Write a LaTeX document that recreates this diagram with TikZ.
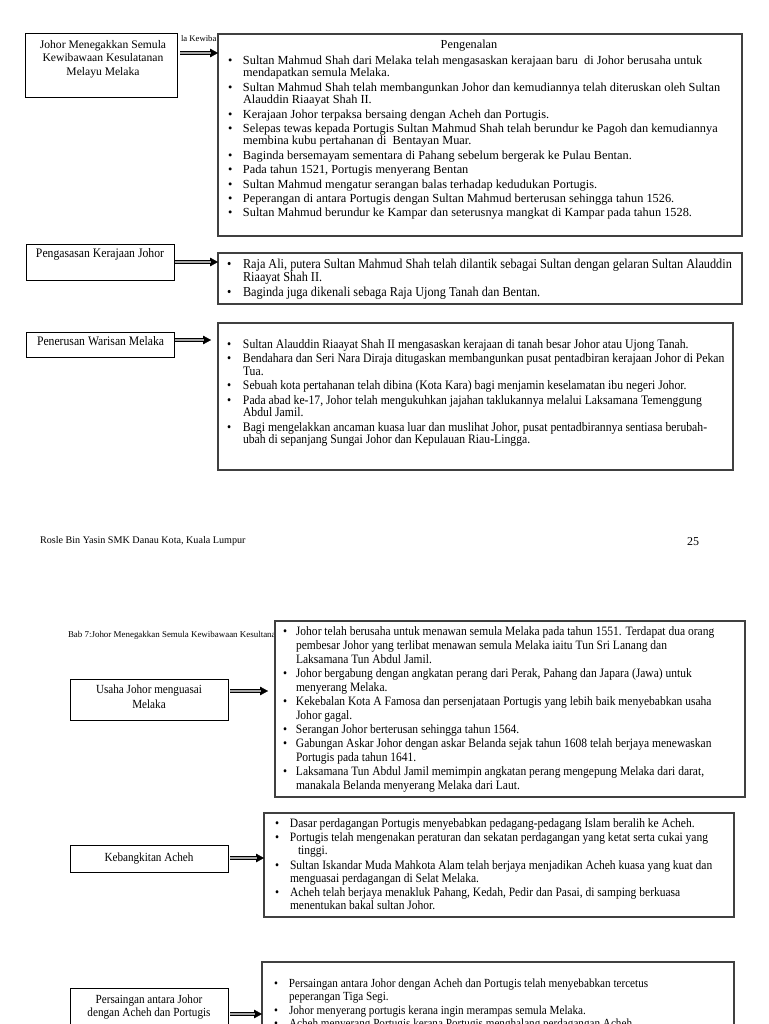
\documentclass[tikz,border=0pt]{standalone}
\usepackage{fontspec}
\setmainfont{Liberation Serif}
\newfontfamily\cnd[FakeStretch=0.9]{Liberation Serif}
\usetikzlibrary{arrows.meta}
\newcommand\bu[1]{\makebox[#1][l]{\textbullet}}
\newcommand\fs[2]{\fontsize{#1}{#2}\selectfont}
\begin{document}
\begin{tikzpicture}[x=0.75pt,y=-0.75pt,
  every node/.style={inner sep=0pt, outer sep=0pt},
  lbox/.style={draw=black, line width=0.7pt, anchor=north west},
  rbox/.style={draw=black!75, line width=1.1pt, anchor=north west},
  txt/.style={anchor=base west, align=left},
  ctxt/.style={anchor=base},
  dhead/.style={line width=0.2pt, -{Triangle[length=6pt,width=6.5pt]}},
  dshaft/.style={double=black!35, double distance=1.5pt, line width=0.5pt, shorten >=5.5pt}]
\useasboundingbox (0,0) rectangle (768,1024);
\clip (0,0) rectangle (768,1024);

% ---------------- Section 1 ----------------
\node[anchor=base west] (hd1) at (181,42) {\fs{6.5pt}{7pt}la Kewiba};
\node[lbox, minimum width=152*0.75pt, minimum height=64*0.75pt] (a1) at (25,33) {};
\node[ctxt] (a1t) at (103,48.5) {\fs{8.7pt}{10.1pt}\begin{tabular}[t]{@{}c@{}}Johor Menegakkan Semula\\Kewibawaan Kesulatanan\\Melayu Melaka\end{tabular}};
\node[rbox, fill=white, minimum width=524*0.75pt, minimum height=202*0.75pt] (b1) at (218,34) {};
\node[ctxt] (p1) at (469,48.5) {\fs{9.2pt}{9.3pt}Pengenalan};
\node[txt] (b1t) at (228,64.5) {\fs{9.25pt}{9.3pt}\begin{tabular}[t]{@{}l@{}l@{}}
\bu{11.25pt} & Sultan Mahmud Shah dari Melaka telah mengasaskan kerajaan baru\ \ di Johor berusaha untuk\\
 & mendapatkan semula Melaka.\\[1.5pt]
\bu{11.25pt} & Sultan Mahmud Shah telah membangunkan Johor dan kemudiannya telah diteruskan oleh Sultan\\
 & Alauddin Riaayat Shah II.\\[1.5pt]
\bu{11.25pt} & Kerajaan Johor terpaksa bersaing dengan Acheh dan Portugis.\\[1.5pt]
\bu{11.25pt} & Selepas tewas kepada Portugis Sultan Mahmud Shah telah berundur ke Pagoh dan kemudiannya\\
 & membina kubu pertahanan di\ \ Bentayan Muar.\\[1.5pt]
\bu{11.25pt} & Baginda bersemayam sementara di Pahang sebelum bergerak ke Pulau Bentan.\\[1.5pt]
\bu{11.25pt} & Pada tahun 1521, Portugis menyerang Bentan\\[1.5pt]
\bu{11.25pt} & Sultan Mahmud mengatur serangan balas terhadap kedudukan Portugis.\\[1.5pt]
\bu{11.25pt} & Peperangan di antara Portugis dengan Sultan Mahmud berterusan sehingga tahun 1526.\\[1.5pt]
\bu{11.25pt} & Sultan Mahmud berundur ke Kampar dan seterusnya mangkat di Kampar pada tahun 1528.
\end{tabular}};
\coordinate (s1) at (180,53);
\draw[dhead] (s1) -- (b1.west |- s1);
\draw[dshaft] (s1) -- (b1.west |- s1);

% ---------------- Section 2 ----------------
\node[lbox, minimum width=148*0.75pt, minimum height=36*0.75pt] (a2) at (26,244) {};
\node[txt] (a2t) at (36,257.5) {\cnd\fs{9.75pt}{10pt}Pengasasan Kerajaan Johor};
\node[rbox, minimum width=524*0.75pt, minimum height=51*0.75pt] (b2) at (218,253) {};
\node[txt] (b2t) at (227,268) {\cnd\fs{10.2pt}{9.3pt}\begin{tabular}[t]{@{}l@{}l@{}}
\bu{12pt} & Raja Ali, putera Sultan Mahmud Shah telah dilantik sebagai Sultan dengan gelaran Sultan Alauddin\\
 & Riaayat Shah II.\\[1.8pt]
\bu{12pt} & Baginda juga dikenali sebaga Raja Ujong Tanah dan Bentan.
\end{tabular}};
\coordinate (s2) at (175,262);
\draw[dhead] (s2) -- (b2.west |- s2);
\draw[dshaft] (s2) -- (b2.west |- s2);

% ---------------- Section 3 ----------------
\node[lbox, minimum width=148*0.75pt, minimum height=25*0.75pt] (a3) at (26,332) {};
\node[txt] (a3t) at (37,345.5) {\cnd\fs{9.75pt}{10pt}Penerusan Warisan Melaka};
\node[rbox, minimum width=515*0.75pt, minimum height=147*0.75pt] (b3) at (218,323) {};
\node[txt] (b3t) at (227,348.5) {\cnd\fs{9.75pt}{9.2pt}\begin{tabular}[t]{@{}l@{}l@{}}
\bu{12pt} & Sultan Alauddin Riaayat Shah II mengasaskan kerajaan di tanah besar Johor atau Ujong Tanah.\\[1.3pt]
\bu{12pt} & Bendahara dan Seri Nara Diraja ditugaskan membangunkan pusat pentadbiran kerajaan Johor di Pekan\\
 & Tua.\\[1.3pt]
\bu{12pt} & Sebuah kota pertahanan telah dibina (Kota Kara) bagi menjamin keselamatan ibu negeri Johor.\\[1.3pt]
\bu{12pt} & Pada abad ke-17, Johor telah mengukuhkan jajahan taklukannya melalui Laksamana Temenggung\\
 & Abdul Jamil.\\[1.3pt]
\bu{12pt} & Bagi mengelakkan ancaman kuasa luar dan muslihat Johor, pusat pentadbirannya sentiasa berubah-\\
 & ubah di sepanjang Sungai Johor dan Kepulauan Riau-Lingga.
\end{tabular}};
\coordinate (s3) at (175,340);
\coordinate (e3) at (211,340);
\draw[dhead] (s3) -- (e3);
\draw[dshaft] (s3) -- (e3);

% ---------------- Footer ----------------
\node[txt] (ft) at (40,543) {\fs{7.6pt}{8pt}Rosle Bin Yasin SMK Danau Kota, Kuala Lumpur};
\node[txt] (pg) at (687,545) {\fs{9pt}{9pt}25};

% ---------------- Section 4 ----------------
\node[txt] (hd2) at (68,637) {\fs{6.7pt}{7pt}Bab 7:Johor Menegakkan Semula Kewibawaan Kesultana};
\node[rbox, fill=white, minimum width=470*0.75pt, minimum height=176*0.75pt] (b4) at (275,621) {};
\node[lbox, minimum width=158*0.75pt, minimum height=41*0.75pt] (a4) at (70,679) {};
\node[ctxt] (a4t) at (149,693.5) {\cnd\fs{9.3pt}{11.25pt}\begin{tabular}[t]{@{}c@{}}Usaha Johor menguasai\\Melaka\end{tabular}};
\node[txt] (b4t) at (283,635.5) {\cnd\fs{9.6pt}{10.5pt}\begin{tabular}[t]{@{}l@{}l@{}}
\bu{9.75pt} & Johor telah berusaha untuk menawan semula Melaka pada tahun 1551. Terdapat dua orang\\
 & pembesar Johor yang terlibat menawan semula Melaka iaitu Tun Sri Lanang dan\\
 & Laksamana Tun Abdul Jamil.\\
\bu{9.75pt} & Johor bergabung dengan angkatan perang dari Perak, Pahang dan Japara (Jawa) untuk\\
 & menyerang Melaka.\\
\bu{9.75pt} & Kekebalan Kota A Famosa dan persenjataan Portugis yang lebih baik menyebabkan usaha\\
 & Johor gagal.\\
\bu{9.75pt} & Serangan Johor berterusan sehingga tahun 1564.\\
\bu{9.75pt} & Gabungan Askar Johor dengan askar Belanda sejak tahun 1608 telah berjaya menewaskan\\
 & Portugis pada tahun 1641.\\
\bu{9.75pt} & Laksamana Tun Abdul Jamil memimpin angkatan perang mengepung Melaka dari darat,\\
 & manakala Belanda menyerang Melaka dari Laut.
\end{tabular}};
\coordinate (s4) at (230,691);
\coordinate (e4) at (268,691);
\draw[dhead] (s4) -- (e4);
\draw[dshaft] (s4) -- (e4);

% ---------------- Section 5 ----------------
\node[lbox, minimum width=158*0.75pt, minimum height=27*0.75pt] (a5) at (70,845) {};
\node[ctxt] (a5t) at (149,861.5) {\cnd\fs{9.3pt}{10pt}Kebangkitan Acheh};
\node[rbox, minimum width=470*0.75pt, minimum height=104*0.75pt] (b5) at (264,813) {};
\node[txt] (b5t) at (275,827.5) {\cnd\fs{9.6pt}{9.75pt}\begin{tabular}[t]{@{}l@{}l@{}}
\bu{11.25pt} & Dasar perdagangan Portugis menyebabkan pedagang-pedagang Islam beralih ke Acheh.\\[1.1pt]
\bu{11.25pt} & Portugis telah mengenakan peraturan dan sekatan perdagangan yang ketat serta cukai yang\\
 & \hspace{6pt}tinggi.\\[1.1pt]
\bu{11.25pt} & Sultan Iskandar Muda Mahkota Alam telah berjaya menjadikan Acheh kuasa yang kuat dan\\
 & menguasai perdagangan di Selat Melaka.\\[1.1pt]
\bu{11.25pt} & Acheh telah berjaya menakluk Pahang, Kedah, Pedir dan Pasai, di samping berkuasa\\
 & menentukan bakal sultan Johor.
\end{tabular}};
\coordinate (s5) at (230,858);
\draw[dhead] (s5) -- (b5.west |- s5);
\draw[dshaft] (s5) -- (b5.west |- s5);

% ---------------- Section 6 ----------------
\node[lbox, minimum width=158*0.75pt, minimum height=50*0.75pt] (a6) at (70,988) {};
\node[ctxt] (a6t) at (149,1003.5) {\cnd\fs{9.3pt}{9.75pt}\begin{tabular}[t]{@{}c@{}}Persaingan antara Johor\\dengan Acheh dan Portugis\end{tabular}};
\node[rbox, minimum width=472*0.75pt, minimum height=80*0.75pt] (b6) at (262,962) {};
\node[txt] (b6t) at (274,987.5) {\cnd\fs{9.3pt}{10pt}\begin{tabular}[t]{@{}l@{}l@{}}
\bu{11.25pt} & Persaingan antara Johor dengan Acheh dan Portugis telah menyebabkan tercetus\\
 & peperangan Tiga Segi.\\
\bu{11.25pt} & Johor menyerang portugis kerana ingin merampas semula Melaka.\\
\bu{11.25pt} & Acheh menyerang Portugis kerana Portugis menghalang perdagangan Acheh.
\end{tabular}};
\coordinate (s6) at (230,1014);
\draw[dhead] (s6) -- (b6.west |- s6);
\draw[dshaft] (s6) -- (b6.west |- s6);
\end{tikzpicture}
\end{document}
